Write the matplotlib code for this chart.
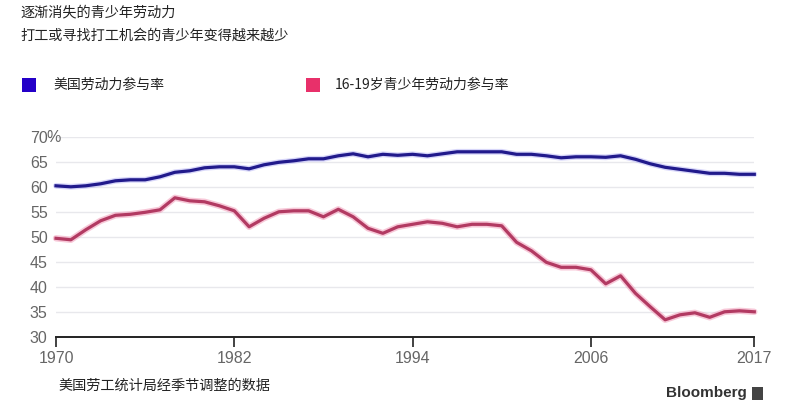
import numpy as np
import matplotlib
matplotlib.use('Agg')
import matplotlib.pyplot as plt
from matplotlib.patches import Rectangle

plt.rcParams['font.family'] = ['Noto Sans CJK SC', 'DejaVu Sans']

years = np.arange(1970, 2018)
# overall labor force participation rate (%)
lfpr_all = [60.3, 60.1, 60.3, 60.7, 61.3, 61.5, 61.5, 62.1, 63.0, 63.3,
            63.9, 64.1, 64.1, 63.7, 64.5, 65.0, 65.3, 65.7, 65.7, 66.3,
            66.7, 66.1, 66.6, 66.4, 66.6, 66.3, 66.7, 67.1, 67.1, 67.1,
            67.1, 66.6, 66.6, 66.3, 65.9, 66.1, 66.1, 66.0, 66.3, 65.6,
            64.7, 64.0, 63.6, 63.2, 62.8, 62.8, 62.6, 62.6]
# teens 16-19 labor force participation rate (%)
lfpr_teen = [49.8, 49.5, 51.5, 53.3, 54.4, 54.6, 55.0, 55.5, 57.9, 57.3,
             57.1, 56.3, 55.3, 52.1, 53.8, 55.1, 55.3, 55.3, 54.1, 55.6,
             54.1, 51.8, 50.8, 52.1, 52.6, 53.1, 52.8, 52.1, 52.6, 52.6,
             52.3, 49.0, 47.3, 45.0, 44.0, 44.0, 43.5, 40.7, 42.3, 38.8,
             36.1, 33.5, 34.5, 34.9, 34.0, 35.1, 35.3, 35.1]

yticks = [30, 35, 40, 45, 50, 55, 60, 65, 70]
xticks = [1970, 1982, 1994, 2006, 2017]

title = '逐渐消失的青少年劳动力'
subtitle = '打工或寻找打工机会的青少年变得越来越少'
label_all = '美国劳动力参与率'
label_teen = '16-19岁青少年劳动力参与率'
source = '美国劳工统计局经季节调整的数据'

W, H = 800, 407
fig = plt.figure(figsize=(W / 100, H / 100), dpi=100)
fig.patch.set_facecolor('white')

ax = fig.add_axes([56 / W, 1 - 337.3 / H, (754.3 - 56) / W, 200 / H])
ax.set_xlim(1970, 2017)
ax.set_ylim(30, 70)

for v in yticks[1:]:
    ax.axhline(v, color='#e8e8ec', lw=1.0, zorder=0)

blue = '#211a8c'
red = '#b23a62'
ax.plot(years, lfpr_all, color='#8f8cf0', lw=4.2, alpha=0.35, solid_capstyle='round', clip_on=False)
ax.plot(years, lfpr_all, color=blue, lw=2.3, clip_on=False, solid_joinstyle='round')
ax.plot(years, lfpr_teen, color='#f29bb8', lw=4.6, alpha=0.55, solid_capstyle='round', clip_on=False)
ax.plot(years, lfpr_teen, color=red, lw=2.3, clip_on=False, solid_joinstyle='round')

for s in ['top', 'right', 'left']:
    ax.spines[s].set_visible(False)
ax.spines['bottom'].set_color('#222222')
ax.spines['bottom'].set_linewidth(1.4)

tick_font = ['Liberation Sans', 'DejaVu Sans']
ax.set_yticks(yticks)
ax.set_yticklabels([str(v) for v in yticks])
ax.tick_params(axis='y', length=0, pad=6, labelsize=11.5, labelcolor='#666666')
ax.set_xticks(xticks)
ax.set_xticklabels([str(v) for v in xticks])
ax.tick_params(axis='x', length=7, width=1.2, color='#222222', pad=3,
               labelsize=11.5, labelcolor='#666666')
for lab in ax.get_xticklabels() + ax.get_yticklabels():
    lab.set_family(tick_font)
ax.text(46.5 / W, 1 - 137.3 / H, '%', transform=fig.transFigure, ha='left', va='center',
        fontsize=11.5, color='#666666', family=tick_font)

fig.text(20 / W, 1 - 12 / H, title, fontsize=10.2, color='#222222', va='center')
fig.text(20 / W, 1 - 36 / H, subtitle, fontsize=10.2, color='#222222', va='center')

fig.patches.append(Rectangle((22 / W, 1 - 92 / H), 14 / W, 14 / H, transform=fig.transFigure,
                             facecolor='#2400c8', edgecolor='none'))
fig.text(53 / W, 1 - 85 / H, label_all, fontsize=10, color='#222222', va='center')
fig.patches.append(Rectangle((306 / W, 1 - 92 / H), 14 / W, 14 / H, transform=fig.transFigure,
                             facecolor='#e8306a', edgecolor='none'))
fig.text(335 / W, 1 - 85 / H, label_teen, fontsize=10, color='#222222', va='center')

fig.text(58 / W, 1 - 386 / H, source, fontsize=10.2, color='#222222', va='center')
fig.text(747 / W, 1 - 393 / H, 'Bloomberg', fontsize=11, fontweight='bold', color='#333333',
         va='center', ha='right', family=tick_font)
fig.patches.append(Rectangle((752 / W, 1 - 400 / H), 11 / W, 13 / H, transform=fig.transFigure,
                             facecolor='#444444', edgecolor='none'))

fig.savefig('out.png', dpi=100, facecolor='white')
